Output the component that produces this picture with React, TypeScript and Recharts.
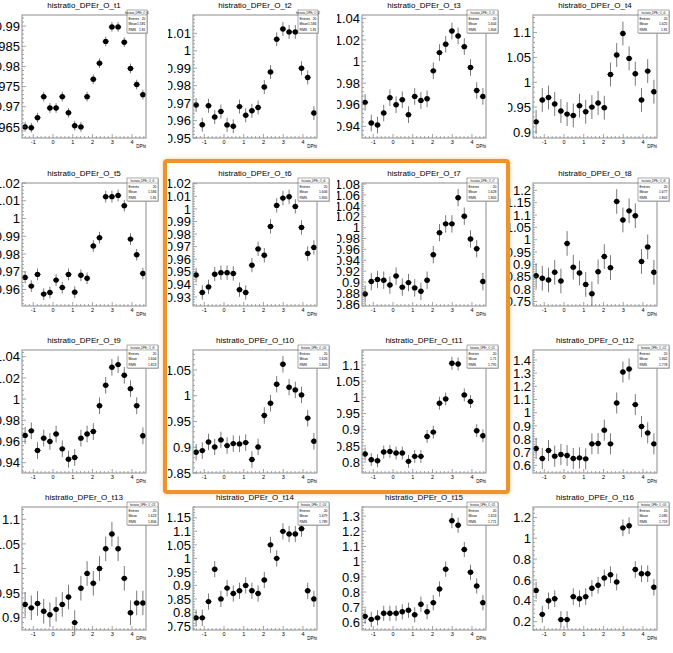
import React from 'react';
import { ScatterChart, Scatter, XAxis, YAxis, ErrorBar } from 'recharts';

// ---- categories (bin centres of DPhi, -pi/2 .. 3pi/2, 20 bins) ----
const DPHI = [-1.414, -1.1, -0.785, -0.471, -0.157, 0.157, 0.471, 0.785, 1.1, 1.414, 1.728, 2.042, 2.356, 2.67, 2.985, 3.299, 3.613, 3.927, 4.241, 4.555];
const X_HALF_BIN = 0.157;
const X_DOMAIN = [-1.5708, 4.7124];
const X_TICKS = [-1, 0, 1, 2, 3, 4];

// ---- series values ----
const T1 = [0.965, 0.9648, 0.9673, 0.9725, 0.9697, 0.9697, 0.9725, 0.9685, 0.9653, 0.965, 0.9725, 0.9768, 0.9808, 0.9862, 0.9898, 0.9898, 0.986, 0.9795, 0.9755, 0.973];
const T2 = [0.9689, 0.9576, 0.9685, 0.962, 0.9652, 0.9575, 0.9567, 0.968, 0.963, 0.9656, 0.9675, 0.9792, 0.9878, 1.0066, 1.0125, 1.0108, 1.0108, 0.99, 0.9847, 0.9643];
const T3 = [0.9622, 0.9431, 0.9412, 0.9523, 0.9665, 0.96, 0.9646, 0.9508, 0.9677, 0.964, 0.9655, 0.9914, 1.0083, 1.016, 1.0283, 1.0237, 1.0138, 0.9945, 0.9732, 0.9677];
const T4 = [0.9203, 0.9644, 0.9692, 0.9563, 0.942, 0.9359, 0.9332, 0.9529, 0.9407, 0.95, 0.9583, 0.9488, 1.0156, 1.0547, 1.098, 1.048, 1.017, 0.9644, 1.0224, 0.981];
const T5 = [0.9668, 0.9619, 0.9685, 0.9574, 0.9583, 0.9653, 0.9611, 0.9685, 0.9585, 0.968, 0.9663, 0.9845, 0.9892, 1.0123, 1.0123, 1.013, 1.0072, 0.9884, 0.9796, 0.969];
const T6 = [0.9474, 0.9335, 0.938, 0.9481, 0.9493, 0.9493, 0.9487, 0.9358, 0.9335, 0.9553, 0.9682, 0.9631, 0.9861, 1.0028, 1.0086, 1.0097, 1.002, 0.9853, 0.9645, 0.9694];
const T7 = [0.878, 0.9009, 0.9047, 0.9034, 0.8945, 0.911, 0.8906, 0.899, 0.8893, 0.883, 0.9034, 0.9503, 0.9908, 1.0069, 1.0069, 1.055, 1.021, 0.9792, 0.9613, 0.9009];
const T8 = [0.854, 0.844, 0.837, 0.868, 0.833, 0.985, 0.889, 0.865, 0.819, 0.781, 0.87, 0.932, 0.887, 1.155, 1.08, 1.117, 1.097, 0.912, 0.971, 0.868];
const T9 = [0.9657, 0.97, 0.9514, 0.9631, 0.96, 0.967, 0.953, 0.9432, 0.9448, 0.9631, 0.967, 0.9694, 0.9937, 1.013, 1.03, 1.0325, 1.0224, 1.0098, 0.9937, 0.9653];
const T10 = [0.8903, 0.8935, 0.9103, 0.9006, 0.9142, 0.9032, 0.9071, 0.9065, 0.909, 0.8761, 0.9006, 0.9616, 0.9855, 1.0223, 1.061, 1.0165, 1.0113, 1.0016, 0.9565, 0.9116];
const T11 = [0.8246, 0.8072, 0.8041, 0.8308, 0.8329, 0.8277, 0.8277, 0.8021, 0.8175, 0.8175, 0.8791, 0.8925, 0.9818, 0.9951, 1.1051, 1.103, 1.0075, 0.9869, 0.8966, 0.8812];
const T12 = [0.7278, 0.652, 0.7126, 0.6697, 0.6823, 0.6747, 0.652, 0.657, 0.6495, 0.7631, 0.7657, 0.8672, 0.7631, 1.0737, 1.3086, 1.3313, 1.0611, 0.8944, 0.8465, 0.7631];
const T13 = [0.927, 0.92, 0.929, 0.913, 0.906, 0.917, 0.927, 0.942, 0.89, 0.96, 0.99, 0.97, 1.0, 1.04, 1.07, 1.04, 0.98, 0.91, 0.93, 0.93];
const T14 = [0.78, 0.78, 0.84, 0.96, 0.85, 0.89, 0.87, 0.88, 0.9, 0.88, 0.87, 0.92, 1.05, 1.0, 1.1, 1.09, 1.09, 1.11, 0.88, 0.85];
const T15 = [0.64, 0.62, 0.63, 0.66, 0.66, 0.66, 0.67, 0.68, 0.65, 0.72, 0.67, 0.73, 0.82, 0.95, 1.27, 1.24, 1.08, 0.93, 0.84, 0.73];
const T16 = [0.5, 0.27, 0.4, 0.42, 0.22, 0.22, 0.44, 0.42, 0.44, 0.52, 0.55, 0.62, 0.65, 0.58, 1.1, 1.12, 0.7, 0.66, 0.66, 0.53];

const SERIES = [T1, T2, T3, T4, T5, T6, T7, T8, T9, T10, T11, T12, T13, T14, T15, T16];
const ERRORS = [0.0012, 0.004, 0.0077, 0.024, 0.0033, 0.0057, 0.016, 0.05, 0.0079, 0.016, 0.02, 0.08, 0.025, 0.03, 0.05, 0.08];
const Y_DOMAINS = [
  [0.96225, 0.99275], [0.95, 1.0205], [0.9292, 1.0431], [0.8878, 1.1353],
  [0.9507, 1.02], [0.9228, 1.0206], [0.856, 1.082], [0.7316, 1.2297],
  [0.9302, 1.0463], [0.85, 1.0887], [0.7661, 1.1462], [0.5419, 1.4758],
  [0.875, 1.125], [0.735, 1.19], [0.55, 1.36], [0.12, 1.3],
];
const Y_TICKS = [
  [0.965, 0.97, 0.975, 0.98, 0.985, 0.99],
  [0.95, 0.96, 0.97, 0.98, 0.99, 1, 1.01],
  [0.94, 0.96, 0.98, 1, 1.02, 1.04],
  [0.9, 0.95, 1, 1.05, 1.1],
  [0.96, 0.97, 0.98, 0.99, 1, 1.01, 1.02],
  [0.93, 0.94, 0.95, 0.96, 0.97, 0.98, 0.99, 1, 1.01, 1.02],
  [0.86, 0.88, 0.9, 0.92, 0.94, 0.96, 0.98, 1, 1.02, 1.04, 1.06, 1.08],
  [0.75, 0.8, 0.85, 0.9, 0.95, 1, 1.05, 1.1, 1.15, 1.2],
  [0.94, 0.96, 0.98, 1, 1.02, 1.04],
  [0.85, 0.9, 0.95, 1, 1.05],
  [0.8, 0.85, 0.9, 0.95, 1, 1.05, 1.1],
  [0.6, 0.7, 0.8, 0.9, 1, 1.1, 1.2, 1.3, 1.4],
  [0.9, 0.95, 1, 1.05, 1.1],
  [0.75, 0.8, 0.85, 0.9, 0.95, 1, 1.05, 1.1, 1.15],
  [0.6, 0.7, 0.8, 0.9, 1, 1.1, 1.2, 1.3],
  [0.2, 0.4, 0.6, 0.8, 1, 1.2],
];
const TITLES = Array.from({ length: 16 }, (_, i) => `histratio_DPEr_O_t${i + 1}`);
const ENTRIES = ['20', '20', '20', '20', '20', '20', '20', '20', '20', '20', '20', '20', '20', '20', '20', '20'];
const MEANS = ['1.581', '1.584', '1.604', '1.625', '1.584', '1.606', '1.628', '1.677', '1.604', '1.626', '1.71', '1.842', '1.623', '1.679', '1.653', '2.085'];
const RMSS = ['1.81', '1.81', '1.806', '1.81', '1.81', '1.805', '1.805', '1.802', '1.813', '1.805', '1.795', '1.778', '1.806', '1.789', '1.771', '1.719'];

// ---- layout ----
const FRAME_LEFT = [22, 193, 362, 533];
const FRAME_TOP = [15, 183, 350, 507];
const PANEL_W = 170;
const PANEL_H = 165;
const PLOT_X = 25;
const PLOT_Y = 15;
const PLOT_W = 124;
const PLOT_H = 123;
const FONT = "'Liberation Sans', Arial, Helvetica, sans-serif";

function withMinor(majors: number[], domain: number[], sub: number): number[] {
  const step = (majors[1] - majors[0]) / sub;
  const out: number[] = [];
  let v = majors[0];
  while (v - step >= domain[0] - 1e-9) v -= step;
  for (; v <= domain[1] + 1e-9; v += step) out.push(Math.round(v * 1e6) / 1e6);
  return out;
}
const isIn = (arr: number[], v: number) => arr.some((m) => Math.abs(m - v) < 1e-7);
const fmt = (v: number) => String(Number(v.toFixed(4)));

const YTick = (props: any) => {
  const { x, y, payload, majors } = props;
  const major = isIn(majors, payload.value);
  return (
    <g>
      <line x1={x} x2={x + (major ? 4 : 2)} y1={y} y2={y} stroke="#666" strokeWidth={0.6} />
      {major && (
        <text x={x - 2} y={y} dy="0.36em" textAnchor="end" fontSize={13} fontFamily={FONT} fill="#000">
          {fmt(payload.value)}
        </text>
      )}
    </g>
  );
};

const XTick = (props: any) => {
  const { x, y, payload } = props;
  const major = isIn(X_TICKS, payload.value);
  return (
    <g>
      <line x1={x} x2={x} y1={y} y2={y - (major ? 4 : 2)} stroke="#666" strokeWidth={0.6} />
      {major && (
        <text x={x} y={y + 6} textAnchor="middle" fontSize={5.5} fontFamily={FONT} fill="#000">
          {fmt(payload.value)}
        </text>
      )}
    </g>
  );
};

const Dot = (props: any) => <circle cx={props.cx} cy={props.cy} r={2.7} fill="#000" />;

function Panel({ idx }: { idx: number }) {
  const r = Math.floor(idx / 4);
  const c = idx % 4;
  const left = FRAME_LEFT[c] - PLOT_X;
  const top = FRAME_TOP[r] - PLOT_Y;
  const data = SERIES[idx].map((v, i) => ({ x: DPHI[i], y: v, ey: ERRORS[idx], ex: X_HALF_BIN }));
  const yMaj = Y_TICKS[idx];
  const yTicks = withMinor(yMaj, Y_DOMAINS[idx], 5);
  const xTicks = withMinor(X_TICKS, X_DOMAIN, 5);
  const boxW = idx < 2 ? 20 : 31;
  const boxX = PLOT_X + PLOT_W - 19;
  const boxY = PLOT_Y - 5;
  return (
    <div style={{ position: 'absolute', left, top, width: PANEL_W, height: PANEL_H, overflow: 'hidden' }}>
      <ScatterChart width={PANEL_W} height={PANEL_H} margin={{ top: PLOT_Y, right: PANEL_W - PLOT_X - PLOT_W, bottom: PANEL_H - PLOT_Y - PLOT_H - 20, left: 0 }}>
        <XAxis
          type="number"
          dataKey="x"
          domain={X_DOMAIN}
          ticks={xTicks}
          interval={0}
          allowDataOverflow
          height={20}
          tickSize={0}
          tickMargin={0}
          axisLine={false}
          tickLine={false}
          tick={(p: any) => <XTick {...p} />}
        />
        <YAxis
          type="number"
          dataKey="y"
          domain={Y_DOMAINS[idx]}
          ticks={yTicks}
          interval={0}
          allowDataOverflow
          width={PLOT_X}
          tickSize={0}
          tickMargin={0}
          axisLine={false}
          tickLine={false}
          tick={(p: any) => <YTick {...p} majors={yMaj} />}
        />
        <Scatter data={data} isAnimationActive={false} shape={Dot}>
          <ErrorBar dataKey="ey" direction="y" width={0} stroke="#7a7a7a" strokeWidth={1} />
          <ErrorBar dataKey="ex" direction="x" width={0} stroke="#111" strokeWidth={0.9} />
        </Scatter>
      </ScatterChart>
      <svg width={PANEL_W} height={PANEL_H} style={{ position: 'absolute', left: 0, top: 0, pointerEvents: 'none' }}>
        <rect x={PLOT_X} y={PLOT_Y} width={PLOT_W} height={PLOT_H} fill="none" stroke="#8c8c8c" strokeWidth={1} />
        <text x={PLOT_X + PLOT_W / 2} y={PLOT_Y - 7} textAnchor="middle" fontSize={8} fontFamily={FONT} fill="#000">
          {TITLES[idx]}
        </text>
        <text x={PLOT_X + PLOT_W} y={PLOT_Y + PLOT_H + 10} textAnchor="end" fontSize={4.5} fontFamily={FONT} fill="#000">
          DPhi
        </text>
        <g fontFamily={FONT} fill="#000">
          <rect x={boxX + 0.8} y={boxY + 0.8} width={boxW} height={23} fill="#bbb" />
          <rect x={boxX} y={boxY} width={boxW} height={23} fill="#fff" stroke="#555" strokeWidth={0.5} />
          <text x={boxX + boxW / 2} y={boxY + 3.6} textAnchor="middle" fontSize={2.6}>{TITLES[idx]}</text>
          <line x1={boxX} x2={boxX + boxW} y1={boxY + 5} y2={boxY + 5} stroke="#555" strokeWidth={0.4} />
          <text x={boxX + 1.5} y={boxY + 9.5} fontSize={3.4}>Entries</text>
          <text x={boxX + boxW - 1.5} y={boxY + 9.5} fontSize={3.4} textAnchor="end">{ENTRIES[idx]}</text>
          <text x={boxX + 1.5} y={boxY + 15} fontSize={3.4}>Mean</text>
          <text x={boxX + boxW - 1.5} y={boxY + 15} fontSize={3.4} textAnchor="end">{MEANS[idx]}</text>
          <text x={boxX + 1.5} y={boxY + 20.5} fontSize={3.4}>RMS</text>
          <text x={boxX + boxW - 1.5} y={boxY + 20.5} fontSize={3.4} textAnchor="end">{RMSS[idx]}</text>
        </g>
      </svg>
    </div>
  );
}

export default function App() {
  return (
    <div style={{ position: 'absolute', left: 0, top: 0, width: 673, height: 653, overflow: 'hidden', background: '#fff' }}>
      {SERIES.map((_, i) => (
        <Panel key={i} idx={i} />
      ))}
      <div
        style={{
          position: 'absolute',
          left: 163,
          top: 159,
          width: 347,
          height: 335,
          boxSizing: 'border-box',
          border: '4px solid #f0922b',
          borderRadius: 4,
          boxShadow: '0 0 4px rgba(240,146,43,0.45)',
          pointerEvents: 'none',
        }}
      />
    </div>
  );
}
